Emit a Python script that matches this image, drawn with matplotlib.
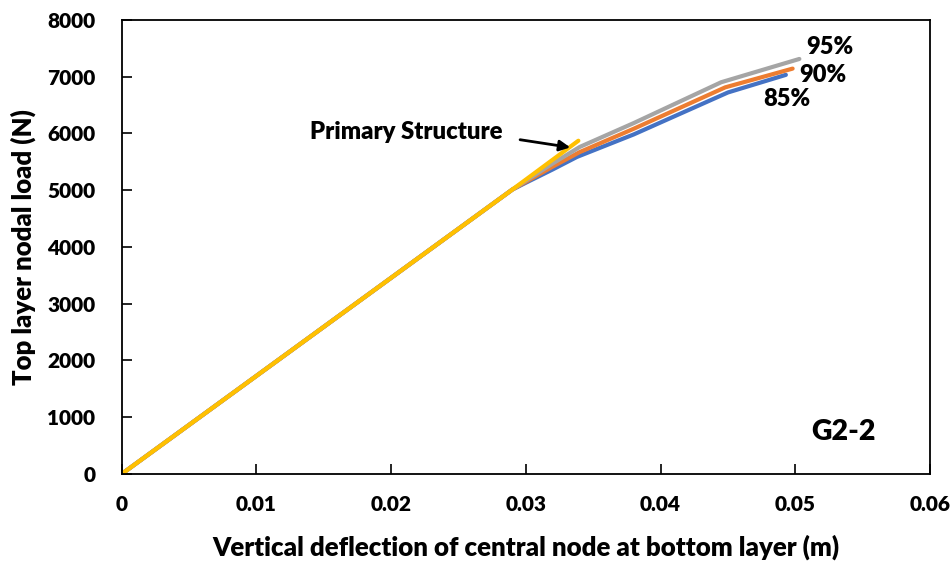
import matplotlib
matplotlib.use("Agg")
import matplotlib.pyplot as plt

plt.rcParams['font.family'] = ['Lato', 'DejaVu Sans']

# Data
primary_x = [0.0, 0.0290, 0.0339]
primary_y = [0, 5010, 5870]

r85_x = [0.0, 0.0290, 0.0300, 0.0320, 0.0338, 0.0380, 0.0450, 0.0493]
r85_y = [0, 5010, 5130, 5365, 5585, 5980, 6720, 7030]

r90_x = [0.0, 0.0290, 0.0300, 0.0320, 0.0340, 0.0380, 0.0448, 0.0498]
r90_y = [0, 5010, 5145, 5415, 5670, 6080, 6810, 7140]

r95_x = [0.0, 0.0290, 0.0300, 0.0320, 0.0340, 0.0380, 0.0445, 0.0503]
r95_y = [0, 5010, 5165, 5470, 5760, 6180, 6900, 7310]

xticks = [0, 0.01, 0.02, 0.03, 0.04, 0.05, 0.06]
xtick_labels = ['0', '0.01', '0.02', '0.03', '0.04', '0.05', '0.06']
yticks = [0, 1000, 2000, 3000, 4000, 5000, 6000, 7000, 8000]

W = 'heavy'

fig = plt.figure(figsize=(9.5, 5.65), dpi=100)
ax = fig.add_axes([0.128, 0.161, 0.851, 0.804])

lw = 3.0
ax.plot(r85_x, r85_y, color='#4472C4', lw=lw, solid_capstyle='round', solid_joinstyle='round')
ax.plot(r90_x, r90_y, color='#ED7D31', lw=lw, solid_capstyle='round', solid_joinstyle='round')
ax.plot(r95_x, r95_y, color='#A5A5A5', lw=lw, solid_capstyle='round', solid_joinstyle='round')
ax.plot(primary_x, primary_y, color='#FFC000', lw=lw, solid_capstyle='round')

ax.set_xlim(0, 0.06)
ax.set_ylim(0, 8000)
ax.set_xticks(xticks)
ax.set_xticklabels(xtick_labels)
ax.set_yticks(yticks)

for s in ax.spines.values():
    s.set_linewidth(1.3)
    s.set_color('black')

ax.tick_params(axis='x', direction='in', length=7, width=1.2, pad=15, labelsize=15)
ax.tick_params(axis='y', direction='in', length=7, width=1.2, pad=19, labelsize=15)
for lab in ax.get_xticklabels() + ax.get_yticklabels():
    lab.set_fontweight(W)

ax.set_xlabel('Vertical deflection of central node at bottom layer (m)', fontsize=18.6,
              fontweight=W, labelpad=15)
ax.set_ylabel('Top layer nodal load (N)', fontsize=18.5, fontweight=W, labelpad=8)

ax.text(0.02825, 6032, 'Primary Structure', ha='right', va='center',
        fontsize=17.2, fontweight=W)
ax.annotate('', xy=(0.03350, 5745), xytext=(0.02937, 5895),
            arrowprops=dict(arrowstyle='-|>', color='black', lw=2, mutation_scale=16))

ax.text(0.05257, 7513, '95%', ha='center', va='center', fontsize=17, fontweight=W)
ax.text(0.05204, 7019, '90%', ha='center', va='center', fontsize=17, fontweight=W)
ax.text(0.04937, 6596, '85%', ha='center', va='center', fontsize=17, fontweight=W)
ax.text(0.05360, 740, 'G2-2', ha='center', va='center', fontsize=20.5, fontweight=W)

fig.savefig('out.png', dpi=100)
